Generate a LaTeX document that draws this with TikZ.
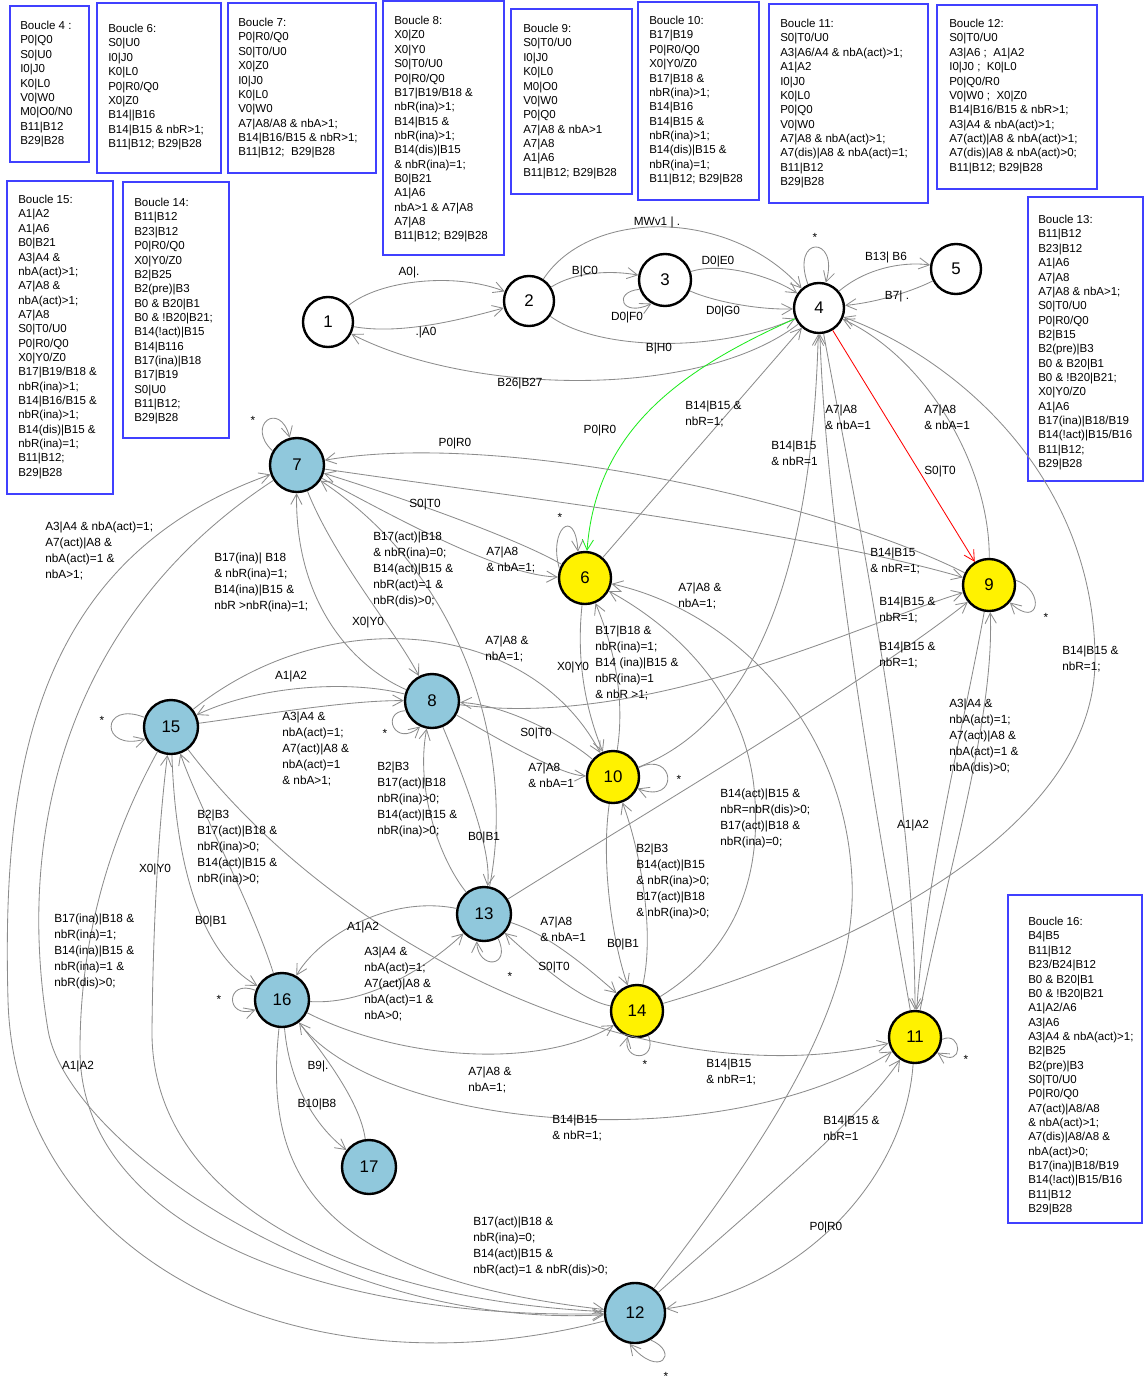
\documentclass[tikz,border=0pt]{standalone}
\usepackage{fontspec}
\setmainfont{Liberation Sans}
\usetikzlibrary{arrows.meta}
\definecolor{stblue}{RGB}{144,200,220}
\definecolor{boxblue}{RGB}{64,64,255}
\definecolor{edgegray}{RGB}{140,140,140}
\definecolor{fsmgreen}{RGB}{30,235,30}
\tikzset{
  st/.style={circle,draw=black,line width=1.7pt,inner sep=0pt,minimum size=1.25cm,font=\fontsize{12}{12}\selectfont},
  stb/.style={st,fill=stblue,minimum size=1.35cm},
  sty/.style={st,fill=yellow,minimum size=1.3cm},
  tr/.style={draw=edgegray,line width=0.6pt,-{Straight Barb[length=2.6mm,width=2.8mm]}},
  lb/.style={font=\fontsize{8.4}{11.4}\selectfont,inner sep=0pt},
  lbb/.style={lb,align=left,anchor=north west},
  boxframe/.style={draw=boxblue,line width=1.2pt},
  boxtxt/.style={font=\fontsize{8.2}{10.2}\selectfont,inner sep=0pt,align=left,anchor=north west},
}
\begin{document}
\begin{tikzpicture}[x=0.025cm,y=-0.025cm]
\useasboundingbox (0,0) rectangle (1145,1380);

% loop boxes
\draw[boxframe] (10,6) rectangle (89,162);
\node[boxtxt] (b4) at (20,21) {Boucle 4 :\\P0|Q0\\S0|U0\\I0|J0\\K0|L0\\V0|W0\\M0|O0/N0\\B11|B12\\B29|B28};
\draw[boxframe] (97,3) rectangle (221,173);
\node[boxtxt] (b6) at (108,24) {Boucle 6:\\S0|U0\\I0|J0\\K0|L0\\P0|R0/Q0\\X0|Z0\\B14||B16\\B14|B15 \& nbR>1;\\B11|B12; B29|B28};
\draw[boxframe] (228,3) rectangle (376,173);
\node[boxtxt] (b7) at (238,18) {Boucle 7:\\P0|R0/Q0\\S0|T0/U0\\X0|Z0\\I0|J0\\K0|L0\\V0|W0\\A7|A8/A8 \& nbA>1;\\B14|B16/B15 \& nbR>1;\\B11|B12;\ \ B29|B28};
\draw[boxframe] (383,1) rectangle (504,255);
\node[boxtxt] (b8) at (394,16) {Boucle 8:\\X0|Z0\\X0|Y0\\S0|T0/U0\\P0|R0/Q0\\B17|B19/B18 \&\\nbR(ina)>1;\\B14|B15 \&\\nbR(ina)>1;\\B14(dis)|B15\\\& nbR(ina)=1;\\B0|B21\\A1|A6\\nbA>1 \& A7|A8\\A7|A8\\B11|B12; B29|B28};
\draw[boxframe] (511,9) rectangle (632,194);
\node[boxtxt] (b9) at (523,24) {Boucle 9:\\S0|T0/U0\\I0|J0\\K0|L0\\M0|O0\\V0|W0\\P0|Q0\\A7|A8 \& nbA>1\\A7|A8\\A1|A6\\B11|B12; B29|B28};
\draw[boxframe] (638,2) rectangle (759,200);
\node[boxtxt] (b10) at (649,16) {Boucle 10:\\B17|B19\\P0|R0/Q0\\X0|Y0/Z0\\B17|B18 \&\\nbR(ina)>1;\\B14|B16\\B14|B15 \&\\nbR(ina)>1;\\B14(dis)|B15 \&\\nbR(ina)=1;\\B11|B12; B29|B28};
\draw[boxframe] (769,4) rectangle (928,203);
\node[boxtxt] (b11) at (780,19) {Boucle 11:\\S0|T0/U0\\A3|A6/A4 \& nbA(act)>1;\\A1|A2\\I0|J0\\K0|L0\\P0|Q0\\V0|W0\\A7|A8 \& nbA(act)>1;\\A7(dis)|A8 \& nbA(act)=1;\\B11|B12\\B29|B28};
\draw[boxframe] (937,5) rectangle (1097,189);
\node[boxtxt] (b12) at (949,19) {Boucle 12:\\S0|T0/U0\\A3|A6 ;\ \ A1|A2\\I0|J0 ;\ \ K0|L0\\P0|Q0/R0\\V0|W0 ;\ \ X0|Z0\\B14|B16/B15 \& nbR>1;\\A3|A4 \& nbA(act)>1;\\A7(act)|A8 \& nbA(act)>1;\\A7(dis)|A8 \& nbA(act)>0;\\B11|B12; B29|B28};
\draw[boxframe] (1028,197) rectangle (1143,481);
\node[boxtxt] (b13) at (1038,215) {Boucle 13:\\B11|B12\\B23|B12\\A1|A6\\A7|A8\\A7|A8 \& nbA>1;\\S0|T0/U0\\P0|R0/Q0\\B2|B15\\B2(pre)|B3\\B0 \& B20|B1\\B0 \& !B20|B21;\\X0|Y0/Z0\\A1|A6\\B17(ina)|B18/B19\\B14(!act)|B15/B16\\B11|B12;\\B29|B28};
\draw[boxframe] (7,181) rectangle (113,494);
\node[boxtxt] (b15) at (18,195) {Boucle 15:\\A1|A2\\A1|A6\\B0|B21\\A3|A4 \&\\nbA(act)>1;\\A7|A8 \&\\nbA(act)>1;\\A7|A8\\S0|T0/U0\\P0|R0/Q0\\X0|Y0/Z0\\B17|B19/B18 \&\\nbR(ina)>1;\\B14|B16/B15 \&\\nbR(ina)>1;\\B14(dis)|B15 \&\\nbR(ina)=1;\\B11|B12;\\B29|B28};
\draw[boxframe] (123,182) rectangle (229,438);
\node[boxtxt] (b14) at (134,198) {Boucle 14:\\B11|B12\\B23|B12\\P0|R0/Q0\\X0|Y0/Z0\\B2|B25\\B2(pre)|B3\\B0 \& B20|B1\\B0 \& !B20|B21;\\B14(!act)|B15\\B14|B116\\B17(ina)|B18\\B17|B19\\S0|U0\\B11|B12;\\B29|B28};
\draw[boxframe] (1008,895) rectangle (1142,1223);
\node[boxtxt] (b16) at (1028,917) {Boucle 16:\\B4|B5\\B11|B12\\B23/B24|B12\\B0 \& B20|B1\\B0 \& !B20|B21\\A1|A2/A6\\A3|A6\\A3|A4 \& nbA(act)>1;\\B2|B25\\B2(pre)|B3\\S0|T0/U0\\P0|R0/Q0\\A7(act)|A8/A8\\\& nbA(act)>1;\\A7(dis)|A8/A8 \&\\nbA(act)>0;\\B17(ina)|B18/B19\\B14(!act)|B15/B16\\B11|B12\\B29|B28};

% states
\node[st] (s1) at (328,322) {1};
\node[st] (s2) at (529,301) {2};
\node[st,minimum size=1.3cm] (s3) at (665,280) {3};
\node[st] (s4) at (819,308) {4};
\node[st] (s5) at (956,269) {5};
\node[stb] (s7) at (297,465) {7};
\node[sty] (s6) at (585,578) {6};
\node[sty] (s9) at (989,585) {9};
\node[stb] (s8) at (432,701) {8};
\node[stb] (s15) at (171,727) {15};
\node[sty] (s10) at (613,777) {10};
\node[stb] (s13) at (484,914) {13};
\node[sty] (s14) at (637,1011) {14};
\node[stb] (s16) at (282,1000) {16};
\node[sty] (s11) at (915,1037) {11};
\node[stb] (s17) at (369,1167) {17};
\node[stb,minimum size=1.5cm] (s12) at (635,1313) {12};

% transitions, top row
\draw[tr] (s1) .. controls (380,280) and (455,272) .. (s2);
\draw[tr] (s1) .. controls (400,335) and (460,320) .. (s2);
\draw[tr] (s2) .. controls (575,272) and (610,270) .. (s3);
\draw[tr] (s3.200) .. controls (612,292) and (622,318) .. (s3.240);
\draw[tr] (s3) .. controls (720,262) and (770,275) .. (s4);
\draw[tr] (s3) .. controls (715,302) and (760,310) .. (s4);
\draw[tr] (s2) .. controls (590,208) and (730,208) .. (s4);
\draw[tr] (s2) .. controls (600,352) and (720,352) .. (s4);
\draw[tr] (s4) .. controls (700,400) and (470,395) .. (s1);
\draw[tr] (s4.115) .. controls (790,235) and (840,235) .. (s4.75);
\draw[tr] (s4) .. controls (870,265) and (910,262) .. (s5);
\draw[tr] (s5) .. controls (915,290) and (880,302) .. (s4);

% transitions round 4
\draw[tr,draw=fsmgreen] (s4) .. controls (680,370) and (596,430) .. (s6);
\draw[tr,draw=red] (s4) -- (s9);
\draw[tr] (s9) .. controls (990,470) and (930,360) .. (s4);
\draw[tr] (s6) -- (s4);
\draw[tr] (s10) .. controls (760,720) and (812,560) .. (s4);
\draw[tr] (s11) .. controls (870,780) and (826,520) .. (s4);
\draw[tr] (s4) .. controls (850,480) and (915,780) .. (s11);
\draw[tr] (s14) .. controls (880,940) and (1095,820) .. (1095,660) .. controls (1095,480) and (960,360) .. (s4);

% transitions round 9 and 11
\draw[tr] (s9) .. controls (965,720) and (925,880) .. (s11);
\draw[tr] (s11) .. controls (945,880) and (995,720) .. (s9);
\draw[tr] (s9.10) .. controls (1045,590) and (1040,630) .. (s9.-40);
\draw[tr] (s9) .. controls (820,500) and (500,430) .. (s7);
\draw[tr] (s7) .. controls (500,495) and (800,530) .. (s9);
\draw[tr] (s13) .. controls (650,810) and (870,680) .. (s9);
\draw[tr] (s8) .. controls (650,730) and (870,620) .. (s9);

% transitions round 7 and 6
\draw[tr] (s6) .. controls (520,540) and (410,500) .. (s7);
\draw[tr] (s7) .. controls (400,520) and (500,575) .. (s6);
\draw[tr] (s7.150) .. controls (245,425) and (280,400) .. (s7.105);
\draw[tr] (s8) .. controls (350,665) and (295,600) .. (s7);
\draw[tr] (s7) .. controls (335,560) and (395,630) .. (s8);
\draw[tr] (s13) .. controls (515,760) and (470,580) .. (s7);
\draw[tr] (s6.160) .. controls (548,530) and (575,505) .. (s6.105);
\draw[tr] (s6) .. controls (575,670) and (590,720) .. (s10);
\draw[tr] (s10) .. controls (625,700) and (615,650) .. (s6);
\draw[tr] (s14) .. controls (735,950) and (760,880) .. (755,800) .. controls (750,700) and (680,630) .. (s6);
\draw[tr] (s12) .. controls (760,1150) and (858,1010) .. (852,880) .. controls (845,720) and (730,610) .. (s6);

% transitions round 8, 15, 10
\draw[tr] (s8) .. controls (350,680) and (260,685) .. (s15);
\draw[tr] (s15) .. controls (260,715) and (350,700) .. (s8);
\draw[tr] (s15) .. controls (330,600) and (530,620) .. (s10);
\draw[tr] (s8) .. controls (500,740) and (560,775) .. (s10);
\draw[tr] (s10) .. controls (570,740) and (510,705) .. (s8);
\draw[tr] (s8.200) .. controls (380,712) and (395,748) .. (s8.245);
\draw[tr] (s10.20) .. controls (675,750) and (680,805) .. (s10.-25);
\draw[tr] (s15.160) .. controls (100,700) and (100,752) .. (s15.205);

% transitions round 13, 14, 16
\draw[tr] (s8) .. controls (465,780) and (492,850) .. (s13);
\draw[tr] (s13) .. controls (440,860) and (415,790) .. (s8);
\draw[tr] (s13) .. controls (390,895) and (320,935) .. (s16);
\draw[tr] (s16) .. controls (370,1005) and (430,965) .. (s13);
\draw[tr] (s13.-60) .. controls (512,968) and (478,970) .. (s13.-105);
\draw[tr] (s13) .. controls (550,935) and (590,970) .. (s14);
\draw[tr] (s14) .. controls (580,1000) and (540,965) .. (s13);
\draw[tr] (s10) .. controls (600,870) and (615,950) .. (s14);
\draw[tr] (s14) .. controls (655,930) and (640,850) .. (s10);
\draw[tr] (s14.-65) .. controls (658,1062) and (622,1062) .. (s14.-110);
\draw[tr] (s16) .. controls (400,1060) and (540,1070) .. (s14);
\draw[tr] (s15) .. controls (340,950) and (650,1100) .. (s11);
\draw[tr] (s16) .. controls (380,1130) and (720,1160) .. (s11);
\draw[tr] (s15) .. controls (175,850) and (195,950) .. (s16);
\draw[tr] (s16) .. controls (250,900) and (200,810) .. (s15);
\draw[tr] (s16.160) .. controls (225,978) and (225,1020) .. (s16.200);
\draw[tr] (s16) .. controls (290,1090) and (320,1130) .. (s17);
\draw[tr] (s17) .. controls (360,1100) and (320,1050) .. (s16);

% transitions round 12
\draw[tr] (s12) .. controls (740,1220) and (860,1120) .. (s11);
\draw[tr] (s11) .. controls (905,1180) and (800,1290) .. (s12);
\draw[tr] (s11.-5) .. controls (962,1030) and (965,1070) .. (s11.-35);
\draw[tr] (s12.-60) .. controls (680,1352) and (660,1380) .. (s12.-100);
\draw[tr] (s16) .. controls (265,1160) and (300,1275) .. (s12);
\draw[tr] (s12) .. controls (350,1300) and (150,1200) .. (152,1030) .. controls (153,930) and (158,830) .. (s15);
\draw[tr] (s15) .. controls (120,820) and (80,920) .. (80,1050) .. controls (80,1230) and (330,1320) .. (s12);
\draw[tr] (s7) .. controls (90,600) and (10,800) .. (48,1030) .. controls (66,1140) and (330,1330) .. (s12);
\draw[tr] (s12) .. controls (300,1400) and (15,1260) .. (8,1000) .. controls (2,780) and (30,560) .. (s7);

% labels
\node[lb] (t1) at (409,272) {A0|.};
\node[lb] (t2) at (426,332) {.|A0};
\node[lb] (t3) at (585,271) {B|C0};
\node[lb] (t4) at (627,317) {D0|F0};
\node[lb] (t5) at (718,261) {D0|E0};
\node[lb] (t6) at (723,311) {D0|G0};
\node[lb] (t7) at (657,222) {MWv1 | .};
\node[lb] (t8) at (659,348) {B|H0};
\node[lb] (t9) at (520,383) {B26|B27};
\node[lb] (t10) at (886,257) {B13| B6};
\node[lb] (t11) at (897,296) {B7| .};
\node[lb] (t12) at (600,430) {P0|R0};
\node[lb] (t13) at (940,471) {S0|T0};
\node[lb] (t14) at (455,443) {P0|R0};
\node[lb] (t15) at (425,504) {S0|T0};
\node[lb] (t16) at (368,622) {X0|Y0};
\node[lb] (t17) at (291,676) {A1|A2};
\node[lb] (t18) at (573,667) {X0|Y0};
\node[lb] (t19) at (536,733) {S0|T0};
\node[lb] (t20) at (484,837) {B0|B1};
\node[lb] (t21) at (155,869) {X0|Y0};
\node[lb] (t22) at (211,921) {B0|B1};
\node[lb] (t23) at (363,927) {A1|A2};
\node[lb] (t24) at (554,967) {S0|T0};
\node[lb] (t25) at (623,944) {B0|B1};
\node[lb] (t26) at (913,825) {A1|A2};
\node[lb] (t27) at (78,1066) {A1|A2};
\node[lb] (t28) at (318,1066) {B9|.};
\node[lb] (t29) at (317,1104) {B10|B8};
\node[lb] (t30) at (826,1227) {P0|R0};

\node[lbb] (m1) at (685,401) {B14|B15 \&\\nbR=1;};
\node[lbb] (m2) at (771,441) {B14|B15\\\& nbR=1};
\node[lbb] (m3) at (825,405) {A7|A8\\\& nbA=1};
\node[lbb] (m4) at (924,405) {A7|A8\\\& nbA=1};
\node[lbb] (m5) at (870,548) {B14|B15\\\& nbR=1;};
\node[lbb] (m6) at (879,597) {B14|B15 \&\\nbR=1;};
\node[lbb] (m7) at (879,642) {B14|B15 \&\\nbR=1;};
\node[lbb] (m8) at (1062,646) {B14|B15 \&\\nbR=1;};
\node[lbb] (m9) at (486,547) {A7|A8\\\& nbA=1;};
\node[lbb] (m10) at (678,583) {A7|A8 \&\\nbA=1;};
\node[lbb] (m11) at (595,626) {B17|B18 \&\\nbR(ina)=1;\\B14 (ina)|B15 \&\\nbR(ina)=1\\\& nbR >1;};
\node[lbb] (m12) at (485,636) {A7|A8 \&\\nbA=1;};
\node[lbb] (m13) at (528,763) {A7|A8\\\& nbA=1};
\node[lbb] (m14) at (373,532) {B17(act)|B18\\\& nbR(ina)=0;\\B14(act)|B15 \&\\nbR(act)=1 \&\\nbR(dis)>0;};
\node[lbb] (m15) at (214,553) {B17(ina)| B18\\\& nbR(ina)=1;\\B14(ina)|B15 \&\\nbR >nbR(ina)=1;};
\node[lbb] (m16) at (45,522) {A3|A4 \& nbA(act)=1;\\A7(act)|A8 \&\\nbA(act)=1 \&\\nbA>1;};
\node[lbb] (m17) at (282,712) {A3|A4 \&\\nbA(act)=1;\\A7(act)|A8 \&\\nbA(act)=1\\\& nbA>1;};
\node[lbb] (m18) at (377,762) {B2|B3\\B17(act)|B18\\nbR(ina)>0;\\B14(act)|B15 \&\\nbR(ina)>0;};
\node[lbb] (m19) at (197,810) {B2|B3\\B17(act)|B18 \&\\nbR(ina)>0;\\B14(act)|B15 \&\\nbR(ina)>0;};
\node[lbb] (m20) at (54,914) {B17(ina)|B18 \&\\nbR(ina)=1;\\B14(ina)|B15 \&\\nbR(ina)=1 \&\\nbR(dis)>0;};
\node[lbb] (m21) at (364,947) {A3|A4 \&\\nbA(act)=1;\\A7(act)|A8 \&\\nbA(act)=1 \&\\nbA>0;};
\node[lbb] (m22) at (540,917) {A7|A8\\\& nbA=1};
\node[lbb] (m23) at (720,789) {B14(act)|B15 \&\\nbR=nbR(dis)>0;\\B17(act)|B18 \&\\nbR(ina)=0;};
\node[lbb] (m24) at (636,844) {B2|B3\\B14(act)|B15\\\& nbR(ina)>0;\\B17(act)|B18\\\& nbR(ina)>0;};
\node[lbb] (m25) at (949,699) {A3|A4 \&\\nbA(act)=1;\\A7(act)|A8 \&\\nbA(act)=1 \&\\nbA(dis)>0;};
\node[lbb] (m26) at (468,1067) {A7|A8 \&\\nbA=1;};
\node[lbb] (m27) at (706,1059) {B14|B15\\\& nbR=1;};
\node[lbb] (m28) at (552,1115) {B14|B15\\\& nbR=1;};
\node[lbb] (m29) at (823,1116) {B14|B15 \&\\nbR=1};
\node[lbb] (m30) at (473,1217) {B17(act)|B18 \&\\nbR(ina)=0;\\B14(act)|B15 \&\\nbR(act)=1 \& nbR(dis)>0;};

% loop stars
\node[lb] (k4) at (815,237) {*};
\node[lb] (k7) at (253,420) {*};
\node[lb] (k6) at (560,517) {*};
\node[lb] (k9) at (1046,617) {*};
\node[lb] (k15) at (102,720) {*};
\node[lb] (k8) at (385,733) {*};
\node[lb] (k10) at (679,779) {*};
\node[lb] (k13) at (510,976) {*};
\node[lb] (k14) at (645,1064) {*};
\node[lb] (k16) at (219,999) {*};
\node[lb] (k11) at (966,1059) {*};
\node[lb] (k12) at (666,1376) {*};
\end{tikzpicture}
\end{document}
